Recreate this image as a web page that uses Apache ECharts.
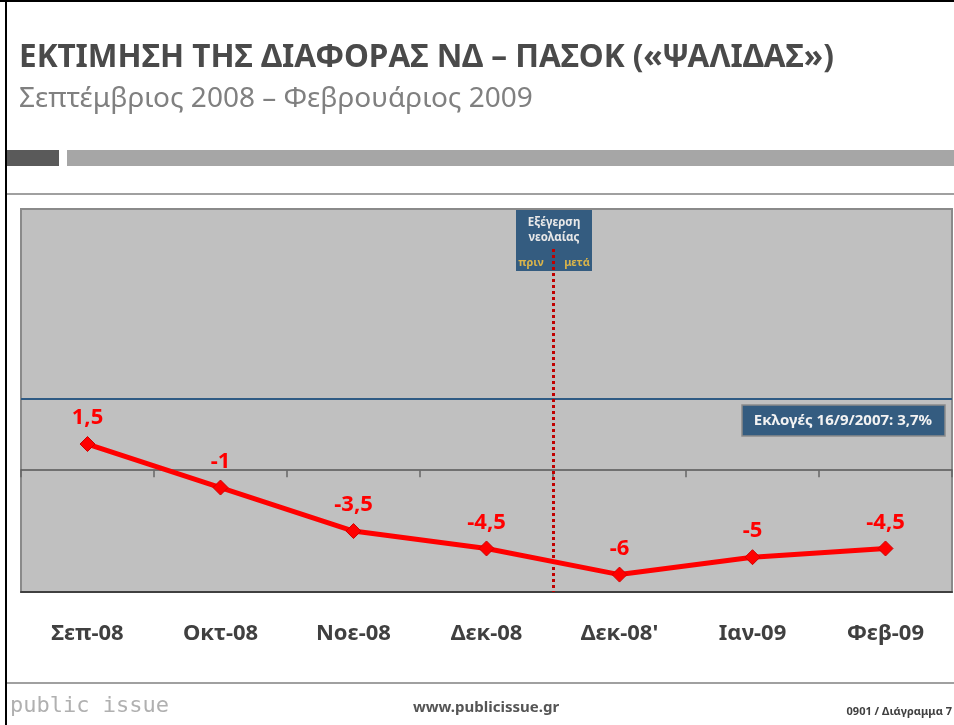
<!DOCTYPE html>
<html>
<head>
<meta charset="utf-8">
<script src="https://cdn.jsdelivr.net/npm/echarts@6/dist/echarts.min.js"></script>
<style>
  html, body { margin: 0; padding: 0; background: #fff; }
  #main { width: 954px; height: 725px; }
</style>
</head>
<body>
<div id="main"></div>
<script>
var months = ['Σεπ-08', 'Οκτ-08', 'Νοε-08', 'Δεκ-08', "Δεκ-08'", 'Ιαν-09', 'Φεβ-09'];
var gap = [1.5, -1, -3.5, -4.5, -6, -5, -4.5];
var yRange = [-7, 15];
var electionLine = 4.1;      // drawn position of the election line
var electionText = 'Εκλογές 16/9/2007: 3,7%';
var eventPos = 4;            // boundary between Δεκ-08 and Δεκ-08'
var eventTop = 12.7;

var font = '"Noto Sans", "Open Sans", sans-serif';
var myChart = echarts.init(document.getElementById('main'));

myChart.setOption({
  animation: false,
  backgroundColor: '#fff',
  grid: {
    left: 21,
    right: 2,
    top: 209,
    bottom: 133,
    show: true,
    backgroundColor: '#c0c0c0',
    borderColor: '#8a8a8a',
    borderWidth: 2
  },
  xAxis: [{
      type: 'category',
      data: months,
      position: 'bottom',
      axisLine: { onZero: true, lineStyle: { color: '#555', width: 1.5 } },
      axisTick: { show: true, length: 7, lineStyle: { color: '#666', width: 1.5 } },
      axisLabel: { show: false }
    },
    {
      type: 'category',
      data: months,
      position: 'bottom',
      axisLine: { onZero: false, lineStyle: { color: '#404040', width: 2 } },
      axisTick: { show: false },
      axisLabel: {
        margin: 31,
        color: '#404040',
        fontFamily: font,
        fontWeight: 'bold',
        fontSize: 22
      }
    },
    {
      type: 'value',
      min: 0,
      max: 7,
      show: false
    }
  ],
  yAxis: {
    type: 'value',
    min: yRange[0],
    max: yRange[1],
    show: false,
    splitLine: { show: false }
  },
  series: [{
      name: 'gap',
      type: 'line',
      xAxisIndex: 0,
      data: gap,
      symbol: 'diamond',
      symbolSize: 15,
      itemStyle: { color: '#ff0000', borderColor: '#d00000', borderWidth: 1 },
      lineStyle: { color: '#ff0000', width: 5 },
      z: 5,
      label: {
        show: true,
        position: 'top',
        distance: 7,
        color: '#ff0000',
        fontFamily: font,
        fontWeight: 'bold',
        fontSize: 22,
        formatter: function (p) {
          return String(p.value).replace('.', ',');
        }
      },
      markLine: {
        silent: true,
        symbol: 'none',
        label: { show: false },
        lineStyle: { color: '#2f5b84', width: 2, type: 'solid' },
        data: [{ yAxis: electionLine }]
      }
    },
    {
      name: 'event',
      type: 'line',
      xAxisIndex: 2,
      data: [],
      z: 4,
      markLine: {
        silent: true,
        symbol: 'none',
        label: { show: false },
        lineStyle: { color: '#c00000', width: 3, type: [3, 3] },
        data: [[{ coord: [eventPos, eventTop] }, { coord: [eventPos, yRange[0]] }]]
      }
    }
  ],
  graphic: [
    // page frame
    { type: 'rect', shape: { x: 0, y: 0, width: 954, height: 2 }, style: { fill: '#000' } },
    { type: 'rect', shape: { x: 5, y: 0, width: 2, height: 725 }, style: { fill: '#000' } },
    // header
    {
      type: 'text', left: 19, top: 42,
      style: {
        text: 'ΕΚΤΙΜΗΣΗ ΤΗΣ ΔΙΑΦΟΡΑΣ ΝΔ – ΠΑΣΟΚ («ΨΑΛΙΔΑΣ»)',
        fill: '#4a4a4a', font: 'bold 31.5px ' + font
      }
    },
    {
      type: 'text', left: 19, top: 85,
      style: {
        text: 'Σεπτέμβριος 2008 – Φεβρουάριος 2009',
        fill: '#808080', font: '28px ' + font
      }
    },
    { type: 'rect', shape: { x: 7, y: 150, width: 52, height: 16 }, style: { fill: '#5a5a5a' } },
    { type: 'rect', shape: { x: 67, y: 150, width: 887, height: 16 }, style: { fill: '#a6a6a6' } },
    { type: 'rect', shape: { x: 7, y: 193, width: 947, height: 2 }, style: { fill: '#a0a0a0' } },
    // event box
    {
      type: 'rect', z: 1,
      shape: { x: 516, y: 210, width: 76, height: 61 },
      style: { fill: '#345c80' }
    },
    {
      type: 'text', z: 2, x: 554, y: 223,
      style: { text: 'Εξέγερση', fill: '#e8e8e8', font: 'bold 11.5px ' + font, align: 'center', verticalAlign: 'middle' }
    },
    {
      type: 'text', z: 2, x: 554, y: 238,
      style: { text: 'νεολαίας', fill: '#e8e8e8', font: 'bold 11.5px ' + font, align: 'center', verticalAlign: 'middle' }
    },
    {
      type: 'text', z: 2, x: 531, y: 263,
      style: { text: 'πριν', fill: '#d9b44a', font: 'bold 11px ' + font, align: 'center', verticalAlign: 'middle' }
    },
    {
      type: 'text', z: 2, x: 577, y: 263,
      style: { text: 'μετά', fill: '#d9b44a', font: 'bold 11px ' + font, align: 'center', verticalAlign: 'middle' }
    },
    // election box
    {
      type: 'rect', z: 6,
      shape: { x: 742, y: 405, width: 203, height: 31 },
      style: { fill: '#345c80', stroke: '#8a8a8a', lineWidth: 1.5 }
    },
    {
      type: 'text', z: 7, x: 843, y: 421,
      style: { text: electionText, fill: '#f2f2f2', font: 'bold 15px ' + font, align: 'center', verticalAlign: 'middle' }
    },
    // footer
    { type: 'rect', shape: { x: 7, y: 682, width: 947, height: 2 }, style: { fill: '#a0a0a0' } },
    {
      type: 'text', x: 10, y: 706,
      style: { text: 'public issue', fill: '#b0b0b0', font: '22px "DejaVu Sans Mono", monospace', verticalAlign: 'middle' }
    },
    {
      type: 'text', x: 486, y: 708,
      style: { text: 'www.publicissue.gr', fill: '#555', font: 'bold 15px ' + font, align: 'center', verticalAlign: 'middle' }
    },
    {
      type: 'text', x: 952, y: 712,
      style: { text: '0901 / Διάγραμμα 7', fill: '#404040', font: 'bold 11px ' + font, align: 'right', verticalAlign: 'middle' }
    }
  ]
});
</script>
</body>
</html>
